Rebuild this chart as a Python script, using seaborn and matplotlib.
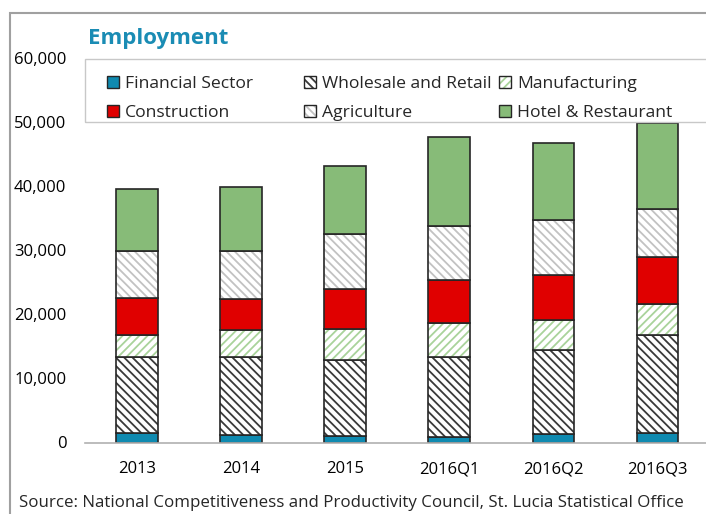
import numpy as np
import pandas as pd
import matplotlib.pyplot as plt
import seaborn as sns
from matplotlib.patches import Patch, Rectangle
from matplotlib.ticker import FuncFormatter, FixedLocator

# data (persons employed)
periods = ["2013", "2014", "2015", "2016Q1", "2016Q2", "2016Q3"]
financial = [1530, 1220, 1060, 910, 1330, 1440]
wholesale = [11780, 12090, 11780, 12500, 13080, 15310]
manufacturing = [3440, 4220, 4890, 5220, 4780, 4840]
construction = [5830, 4890, 6300, 6760, 6940, 7440]
agriculture = [7300, 7460, 8600, 8390, 8590, 7500]
hotel = [9680, 10090, 10620, 13910, 12030, 13350]
y_ticks = [0, 10000, 20000, 30000, 40000, 50000, 60000]

# name, values, face colour, hatch, hatch colour (stacking order bottom -> top)
series = [
    ("Financial Sector", financial, "#0f8ab0", None, "#0f8ab0"),
    ("Wholesale and Retail", wholesale, "white", "\\\\\\\\", "#3a3a3a"),
    ("Manufacturing", manufacturing, "white", "////", "#a9d39b"),
    ("Construction", construction, "#e00000", None, "#e00000"),
    ("Agriculture", agriculture, "white", "\\\\\\\\", "#c2c2c2"),
    ("Hotel & Restaurant", hotel, "#87bb78", None, "#87bb78"),
]

sns.set_style("white")
plt.rcParams['font.family'] = ['Open Sans', 'DejaVu Sans']
plt.rcParams['hatch.linewidth'] = 1.3

W, H = 706, 514
fig = plt.figure(figsize=(W / 100, H / 100), dpi=100)
ax = fig.add_axes([85 / W, (H - 442.5) / H, (709.5 - 85) / W, 384 / H])

edge = "#262626"
bottom = np.zeros(len(periods))
handles = []
for name, vals, face, hatch, hcol in series:
    df = pd.DataFrame({"period": periods, "value": vals})
    # fill + hatch (hatch takes the edge colour)
    sns.barplot(data=df, x="period", y="value", bottom=bottom, width=0.4,
                color=face, saturation=1, hatch=hatch, edgecolor=hcol,
                linewidth=0, errorbar=None, ax=ax)
    # dark outline on top
    sns.barplot(data=df, x="period", y="value", bottom=bottom, width=0.4,
                color=edge, fill=False, linewidth=1.2, errorbar=None, ax=ax)
    bottom += np.array(vals)
    handles.append((Patch(facecolor=face, hatch=hatch, edgecolor=hcol, linewidth=0),
                    Patch(facecolor="none", edgecolor=edge, linewidth=1.0)))

ax.set_xlim(-0.5, 5.5)
ax.set_ylim(0, 60000)
ax.set_xlabel("")
ax.set_ylabel("")
ax.set_yticks(y_ticks)
ax.yaxis.set_major_formatter(FuncFormatter(lambda v, p: f"{int(v):,}"))
ax.tick_params(axis="y", length=0, pad=13.5, labelsize=12, labelcolor="black")
ax.tick_params(axis="x", which="major", length=0, pad=13.5, labelsize=12, labelcolor="black")
ax.xaxis.set_minor_locator(FixedLocator([0.5, 1.5, 2.5, 3.5, 4.5]))
ax.tick_params(axis="x", which="minor", direction="in", length=5, color="#b0b0b0", width=1)
for s in ["left", "top", "right"]:
    ax.spines[s].set_visible(False)
ax.spines["bottom"].set_color("#b0b0b0")
ax.spines["bottom"].set_linewidth(1.2)

# legend: three fixed-position columns like the original
columns = [(107, [0, 3]), (304, [1, 4]), (499, [2, 5])]
for x0, idx in columns:
    fig.legend([handles[i] for i in idx], [series[i][0] for i in idx],
               ncol=1, frameon=False, loc="upper left",
               bbox_to_anchor=(x0 / W, 1 - 76 / H), fontsize=12.6,
               handlelength=0.69, handleheight=0.69, handletextpad=0.34,
               labelspacing=0.71, borderaxespad=0, borderpad=0)

# legend box and outer chart border
fig.patches.append(Rectangle((85 / W, 1 - 122 / H), 700 / W, 63 / H, transform=fig.transFigure,
                             fill=False, edgecolor="#c8c8c8", linewidth=1, zorder=5))
fig.patches.append(Rectangle((10 / W, -0.1), 1.2, 1.1 - 13 / H, transform=fig.transFigure,
                             fill=False, edgecolor="#a0a0a0", linewidth=1.5, zorder=5))

fig.text(88 / W, 1 - 38.5 / H, "Employment", fontsize=16, fontweight="bold",
         color="#1a8cb4", va="center", ha="left")
fig.text(19 / W, 1 - 503 / H,
         "Source: National Competitiveness and Productivity Council, St. Lucia Statistical Office",
         fontsize=12.2, va="center", ha="left")

fig.savefig("out.png", dpi=100)
